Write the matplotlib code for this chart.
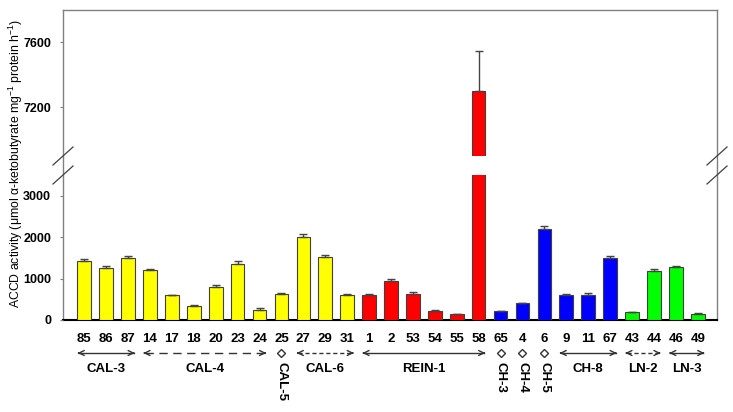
#!/usr/bin/env python3

import numpy as np
import matplotlib
matplotlib.use("Agg")
import matplotlib.pyplot as plt
import matplotlib.transforms as mtransforms
from matplotlib.lines import Line2D

plt.rcParams["font.family"] = ["Liberation Sans", "DejaVu Sans"]
plt.rcParams["mathtext.fontset"] = "custom"
plt.rcParams["mathtext.rm"] = "Liberation Sans"
plt.rcParams["mathtext.it"] = "Liberation Sans:italic"

# isolate labels and ACCD activity (upper error only)
isolates = ["85", "86", "87", "14", "17", "18", "20", "23", "24", "25", "27", "29", "31",
            "1", "2", "53", "54", "55", "58",
            "65", "4", "6", "9", "11", "67",
            "43", "44", "46", "49"]
activity = [1430, 1260, 1505, 1215, 600, 350, 805, 1360, 245, 638, 2010, 1510, 612,
            598, 930, 622, 225, 145, 7300,
            208, 404, 2203, 597, 605, 1494,
            194, 1186, 1275, 153]
errors = [45, 40, 30, 20, 15, 15, 30, 65, 35, 20, 55, 55, 25,
          30, 55, 64, 10, 10, 245,
          10, 12, 65, 20, 40, 48,
          8, 48, 32, 10]
bar_colors = ["#ffff00"] * 13 + ["#ff0000"] * 6 + ["#0000ff"] * 6 + ["#00ff00"] * 4

# groups: (name, first index, last index, line style)
groups = [("CAL-3", 0, 2, "-"),
          ("CAL-4", 3, 8, (0, (6, 4))),
          ("CAL-5", 9, 9, None),
          ("CAL-6", 10, 12, (0, (3, 2))),
          ("REIN-1", 13, 18, "-"),
          ("CH-3", 19, 19, None),
          ("CH-4", 20, 20, None),
          ("CH-5", 21, 21, None),
          ("CH-8", 22, 24, "-"),
          ("LN-2", 25, 26, (0, (3, 2))),
          ("LN-3", 27, 28, "-")]

LOW_LIM = (0, 3500)
HIGH_LIM = (6900, 7800)
LOW_TICKS = [0, 1000, 2000, 3000]
HIGH_TICKS = [7200, 7600]

#==============================================================================

W, H = 733, 412
fig = plt.figure(figsize=(W / 100, H / 100), dpi=100)

def fbox(x0, y0, x1, y1):
    # pixel box (top-left origin) -> figure fraction rect
    return [x0 / W, 1 - y1 / H, (x1 - x0) / W, (y1 - y0) / H]

frame = fig.add_axes(fbox(63, 10, 717, 320))
ax_top = fig.add_axes(fbox(63, 10, 717, 156))
ax_bot = fig.add_axes(fbox(63, 175, 717, 320))

frame.set_xticks([])
frame.set_yticks([])
frame.set_zorder(0)
for s in ["left", "top", "right"]:
    frame.spines[s].set_color("#808080")
    frame.spines[s].set_linewidth(1.0)
frame.spines["bottom"].set_color("black")
frame.spines["bottom"].set_linewidth(1.5)

x = np.arange(len(isolates))
yerr = [np.zeros(len(errors)), errors]

for ax in [ax_top, ax_bot]:
    ax.set_zorder(1)
    ax.patch.set_alpha(0)
    ax.bar(x, activity, width=0.62, color=bar_colors, edgecolor="#404040",
           linewidth=0.8, yerr=yerr, capsize=3.2,
           error_kw=dict(ecolor="#444444", elinewidth=1.0, capthick=1.0))
    ax.set_xlim(-0.97, len(isolates) - 1 + 0.88)
    for s in ax.spines.values():
        s.set_visible(False)
    ax.tick_params(axis="y", length=2.5, width=0.8, color="#808080", pad=6,
                   labelsize=9)

ax_top.set_ylim(*HIGH_LIM)
ax_top.set_yticks(HIGH_TICKS)
ax_top.set_xticks([])
ax_bot.set_ylim(*LOW_LIM)
ax_bot.set_yticks(LOW_TICKS)
for ax in [ax_top, ax_bot]:
    for lab in ax.get_yticklabels():
        lab.set_fontweight("bold")

ax_bot.set_xticks(x)
ax_bot.set_xticklabels(isolates, fontsize=9.5, fontweight="bold")
ax_bot.tick_params(axis="x", length=0, pad=9)

# axis break marks
for yy in [156, 175]:
    for xx in [63, 717]:
        fig.add_artist(Line2D([(xx - 10) / W, (xx + 10) / W],
                              [1 - (yy + 9) / H, 1 - (yy - 9) / H],
                              color="#404040", lw=0.9))

fig.text(16 / W, 1 - 163 / H,
         "ACCD activity (μmol α-ketobutyrate mg$^{-1}$ protein h$^{-1}$)",
         rotation=90, ha="center", va="center", fontsize=8.8)

# group arrows and names
trans = mtransforms.blended_transform_factory(ax_bot.transData, fig.transFigure)
y_arrow = 1 - 353 / H
y_name = 1 - 369 / H
for name, i0, i1, ls in groups:
    if ls is None:
        ax_bot.plot([i0], [y_arrow], transform=trans, marker="D", ms=4,
                    mfc="white", mec="#333333", mew=1.0, clip_on=False)
        ax_bot.text(i0, 1 - 362 / H, name, transform=trans, rotation=-90,
                    ha="center", va="top", fontsize=9.5, fontweight="bold")
        continue
    xa, xb = i0 - 0.3, i1 + 0.3
    col = "#333333"
    ax_bot.plot([xa + 0.05, xb - 0.05], [y_arrow, y_arrow], transform=trans,
                color=col, lw=1.0, linestyle=ls, clip_on=False)
    for tip, tail in [(xa, xa + 0.05), (xb, xb - 0.05)]:
        ax_bot.annotate("", xy=(tip, y_arrow), xytext=(tail, y_arrow),
                        xycoords=trans, textcoords=trans,
                        arrowprops=dict(arrowstyle="->", color=col, lw=1.0,
                                        shrinkA=0, shrinkB=0, mutation_scale=9),
                        annotation_clip=False)
    ax_bot.text((i0 + i1) / 2, y_name, name, transform=trans, ha="center",
                va="center", fontsize=9.5, fontweight="bold")

fig.savefig("out.png", dpi=100)
